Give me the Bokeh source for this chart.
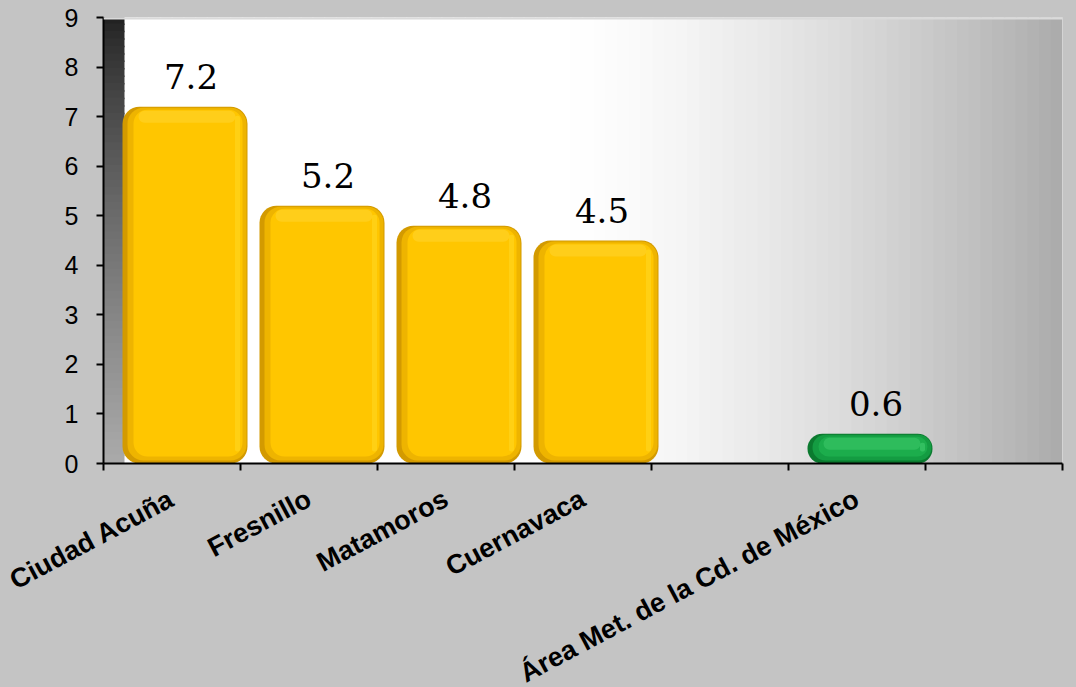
import math
from bokeh.plotting import figure
from bokeh.models import FixedTicker, Range1d, ColumnDataSource, GlobalInlineStyleSheet, Span
from bokeh.core.properties import value
from bokeh.embed import file_html
from bokeh.resources import INLINE

# ---- data ----
categories = ["Ciudad Acuña", "Fresnillo", "Matamoros", "Cuernavaca", "",
              "Área Met. de la Cd. de México", ""]
values = [7.2, 5.2, 4.8, 4.5, None, 0.6, None]
bar_kind = ["yellow", "yellow", "yellow", "yellow", None, "green", None]
value_labels = ["7.2", "5.2", "4.8", "4.5", None, "0.6", None]
y_ticks = [0, 1, 2, 3, 4, 5, 6, 7, 8, 9]

BG = "#c4c4c4"
W = 1076
H1, H2 = 480, 207
BL, BR, BT, BB = 103, 14, 17, 17
n = len(categories)
ymax = 9
dx = n / (W - BL - BR)        # data units per px (x)
dy = ymax / (H1 - BT - BB)    # data units per px (y)

p = figure(width=W, height=H1, output_backend="svg", toolbar_location=None,
           x_range=Range1d(0, n), y_range=Range1d(0, ymax),
           min_border_left=BL, min_border_right=BR, min_border_top=BT, min_border_bottom=BB)
p.stylesheets = [GlobalInlineStyleSheet(css="body{background:%s;}" % BG)]
p.background_fill_color = "#ffffff"
p.border_fill_color = BG
p.outline_line_color = None
p.grid.visible = False

# ---- plot-area gradient (decoration) ----
wall_w = 21 * dx
NS = 80
gl, gr, gt, gb, gc = [], [], [], [], []
for k in range(NS):
    x0 = wall_w + (n - wall_w) * k / NS
    x1 = wall_w + (n - wall_w) * (k + 1) / NS + 1.5 * dx
    xm = (x0 + x1) / 2
    f = max(0.0, (xm - 3.3) / (n - 3.3))
    c = int(round(255 - 84 * f ** 1.5))
    gl.append(x0); gr.append(min(x1, n)); gt.append(ymax); gb.append(0)
    gc.append("#%02x%02x%02x" % (c, c, c))
p.quad(left=gl, right=gr, top=gt, bottom=gb, fill_color=gc, line_color=None)

# wall on the left
wl, wr, wt, wb, wc = [], [], [], [], []
NR = 60
for r in range(NR):
    t = (r + 0.5) / NR
    c = int(round(0x1e + (0xaa - 0x1e) * t ** 0.75))
    wl.append(0); wr.append(wall_w)
    wt.append(min(ymax, ymax - ymax * r / NR + 1.5 * dy)); wb.append(ymax - ymax * (r + 1) / NR)
    wc.append("#%02x%02x%02x" % (c, c, c))
p.quad(left=wl, right=wr, top=wt, bottom=wb, fill_color=wc, line_color=None)
p.add_layout(Span(location=ymax, dimension="width", line_color="#dadada", line_width=4))

# ---- bars ----
palettes = {
    "yellow": ["#d39a00", "#eeb400", "#ffc600", "#ffd41c", "#ffd63a"],
    "green":  ["#0b7a2f", "#149c42", "#1cad4c", "#3cc66a", "#45cf72"],
}
bw = 125 * dx
shift = 13 * dx
for kind in ("yellow", "green"):
    idx = [i for i in range(n) if bar_kind[i] == kind and values[i] is not None]
    xs = [i + 0.5 + shift for i in idx]
    vs = [values[i] for i in idx]
    pal = palettes[kind]
    rad = 17 if kind == "yellow" else 15
    p.vbar(x=xs, width=bw, top=vs, bottom=0, fill_color=pal[0], line_color=None, border_radius=rad)
    p.vbar(x=[x + 2 * dx for x in xs], width=bw - 6 * dx, top=[v - 1 * dy for v in vs],
           bottom=3 * dy, fill_color=pal[1], line_color=None, border_radius=rad - 1)
    p.vbar(x=[x + 3 * dx for x in xs], width=bw - 16 * dx, top=[v - 3 * dy for v in vs],
           bottom=7 * dy, fill_color=pal[2], line_color=None, border_radius=rad - 3)
    p.vbar(x=[x + bw / 2 - 10 * dx for x in xs], width=5 * dx, top=[v - 9 * dy for v in vs],
           bottom=12 * dy, fill_color=pal[3], fill_alpha=0.7, line_color=None, border_radius=2)
    p.vbar(x=[x + 2 * dx for x in xs], width=bw - 28 * dx, top=[v - 4 * dy for v in vs],
           bottom=[max(v - 16 * dy, 10 * dy) for v in vs], fill_color=pal[4], fill_alpha=0.45,
           line_color=None, border_radius=6)

# value labels
li = [i for i in range(n) if values[i] is not None]
src = ColumnDataSource(dict(x=[i + 0.5 + shift for i in li], y=[values[i] for i in li],
                            t=[value_labels[i] for i in li]))
p.text(x="x", y="y", text="t", source=src, text_font=value("DejaVu Serif"),
       text_font_size="34px", text_color="#000000", text_align="center",
       text_baseline="alphabetic", x_offset=6, y_offset=-30)

# ---- axes ----
xa = p.xaxis[0]
xa.ticker = FixedTicker(ticks=[i + 0.5 for i in range(n)], minor_ticks=list(range(n + 1)))
xa.major_label_overrides = {i + 0.5: "" for i in range(n)}
xa.major_tick_out = 0
xa.major_tick_in = 0
xa.minor_tick_out = 7
xa.minor_tick_in = 0
xa.minor_tick_line_color = "#000000"
xa.minor_tick_line_width = 2
xa.axis_line_color = "#000000"
xa.axis_line_width = 2
xa.major_label_text_font_size = "1px"
xa.major_label_standoff = 0

ya = p.yaxis[0]
ya.ticker = FixedTicker(ticks=y_ticks, minor_ticks=[])
ya.major_tick_out = 7
ya.major_tick_in = 0
ya.major_tick_line_color = "#000000"
ya.major_tick_line_width = 2
ya.axis_line_color = "#000000"
ya.axis_line_width = 2
ya.major_label_text_font = "Liberation Sans"
ya.major_label_text_font_size = "25px"
ya.major_label_text_color = "#000000"
ya.major_label_standoff = 18

# ---- category labels panel below (separate root, full-width frame) ----
p2 = figure(width=W, height=H2, output_backend="svg", toolbar_location=None,
            x_range=Range1d(-BL * dx, n + BR * dx), y_range=Range1d(-H2, 0),
            x_axis_location=None, y_axis_location=None,
            min_border_left=0, min_border_right=0, min_border_top=0, min_border_bottom=0)
p2.background_fill_color = BG
p2.border_fill_color = BG
p2.outline_line_color = None
p2.grid.visible = False
ci = [i for i in range(n) if categories[i]]
src2 = ColumnDataSource(dict(x=[i + 0.5 - 7 * dx for i in ci], y=[-3] * len(ci),
                             t=[categories[i] for i in ci]))
p2.text(x="x", y="y", text="t", source=src2, angle=math.radians(28),
        text_font=value("Liberation Sans"), text_font_style="bold", text_font_size="27px",
        text_color="#000000", text_align="right", text_baseline="top")

open("out.html", "w").write(file_html([p, p2], INLINE))
